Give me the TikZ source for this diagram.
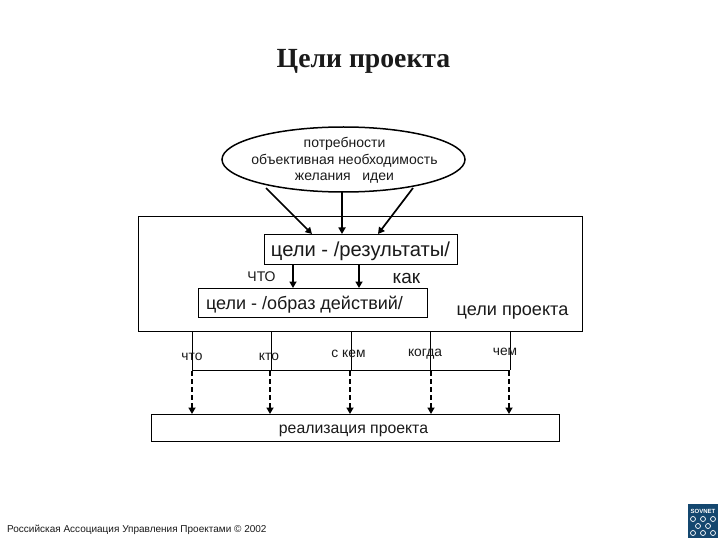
\documentclass[tikz,border=0pt]{standalone}
\usepackage{fontspec}
\setmainfont{Liberation Sans}
\newfontfamily\titlefont{Liberation Serif}
\usetikzlibrary{arrows.meta,calc}
\definecolor{logoblue}{HTML}{14476F}
\definecolor{txt}{HTML}{1A1A1A}
\tikzset{
  x=1pt,y=-1pt,
  boxn/.style={draw=black,line width=1pt,inner sep=0pt,anchor=north west,fill=white},
  lab/.style={inner sep=0pt,text=txt,anchor=center},
  solidarrow/.style={draw=black,line width=1.7pt,-{Triangle[length=6.5pt,width=7pt]}},
  dasharrow/.style={draw=black,line width=1.7pt,dash pattern=on 5pt off 3pt,-{Triangle[length=6.5pt,width=7pt]}},
  thinline/.style={draw=black,line width=.9pt},
  logoring/.style={draw=white,line width=.7pt,inner sep=0pt,minimum size=5pt,circle}
}
\begin{document}
\begin{tikzpicture}
\useasboundingbox (0,0) rectangle (720,540);
\fill[white] (0,0) rectangle (720,540);
\node[lab,font=\titlefont\bfseries\fontsize{27.7}{32}\selectfont] (title) at (363.5,61.5) {Цели проекта};
% frame
\node[boxn,minimum width=444pt,minimum height=115pt] (big) at (138,216) {};
% ellipse
\coordinate (ec) at (343.5,159.5);
\draw[draw=black,line width=1.5pt,fill=white] (ec) ellipse [x radius=121.5,y radius=32.5];
\node[inner sep=0pt,minimum width=243pt,minimum height=65pt] (need) at (ec) {};
\node[lab,font=\fontsize{14}{16.5}\selectfont,align=center] (needt) at (344.5,160.5)
 {потребности\\объективная необходимость\\желания\ \ \ идеи};
% boxes
\node[boxn,minimum width=193pt,minimum height=29.5pt] (res) at (264,234) {};
\node[lab,font=\fontsize{20.2}{24}\selectfont] (rest) at (360.5,251.5) {цели - /результаты/};
\node[boxn,minimum width=229pt,minimum height=29pt] (act) at (198,288) {};
\node[lab,font=\fontsize{18}{22}\selectfont] (actt) at (304.5,304.5) {цели - /образ действий/};
\node[boxn,minimum width=408pt,minimum height=27pt] (real) at (151,414) {};
\node[lab,font=\fontsize{15.8}{18}\selectfont] (realt) at (353.5,430.5) {реализация проекта};
% labels
\node[lab,font=\fontsize{14}{16}\selectfont] (lwhat) at (261.5,277) {ЧТО};
\node[lab,font=\fontsize{19}{22}\selectfont] (lhow) at (406.5,278) {как};
\node[lab,font=\fontsize{18.1}{21}\selectfont] (lgoal) at (512.5,312.5) {цели проекта};
% top arrows
\coordinate (e1) at (266,188);
\coordinate (e2) at (342,192);
\coordinate (e3) at (413,188);
\coordinate (r1) at (312,234);
\coordinate (r2) at (342,234);
\coordinate (r3) at (378,234);
\draw[solidarrow] (e1) -- (r1);
\draw[solidarrow] (e2) -- (r2);
\draw[solidarrow] (e3) -- (r3);
\coordinate (a1) at (293,288);
\coordinate (a2) at (359,288);
\draw[solidarrow] (res.south -| a1) -- (a1);
\draw[solidarrow] (res.south -| a2) -- (a2);
% bus
\coordinate (b1) at (192,370);
\coordinate (b2) at (271,370);
\coordinate (b3) at (351,370);
\coordinate (b4) at (430,370);
\coordinate (b5) at (510,370);
\draw[thinline] (b1) -- (b5);
\foreach \b in {b1,b2,b3,b4,b5} \draw[thinline] (big.south -| \b) -- (\b);
% dashed
\coordinate (c1) at (192,371);
\coordinate (c2) at (270,371);
\coordinate (c3) at (350,371);
\coordinate (c4) at (431,371);
\coordinate (c5) at (509,371);
\foreach \c in {c1,c2,c3,c4,c5} \draw[dasharrow] (\c) -- (real.north -| \c);
% bus labels
\node[lab,font=\fontsize{13.8}{15}\selectfont] (t1) at (192,357) {что};
\node[lab,font=\fontsize{13.8}{15}\selectfont] (t2) at (269,357) {кто};
\node[lab,font=\fontsize{13.8}{15}\selectfont] (t3) at (348.5,353.5) {с кем};
\node[lab,font=\fontsize{13.8}{15}\selectfont] (t4) at (425,354) {когда};
\node[lab,font=\fontsize{13.8}{15}\selectfont] (t5) at (505,351.5) {чем};
% footer
\node[lab,font=\fontsize{10}{12}\selectfont,anchor=west] (foot) at (7,530) {Российская Ассоциация Управления Проектами © 2002};
% logo
\fill[logoblue] (688,504) rectangle (718,538);
\node[inner sep=0pt,text=white,font=\bfseries\fontsize{6}{7}\selectfont] (logot) at (703,511) {SOVNET};
\foreach \px/\py in {693/519,703/519,713/519,698/526,708/526,693/533,703/533,713/533}
  \node[logoring] at (\px,\py) {};
\end{tikzpicture}
\end{document}
